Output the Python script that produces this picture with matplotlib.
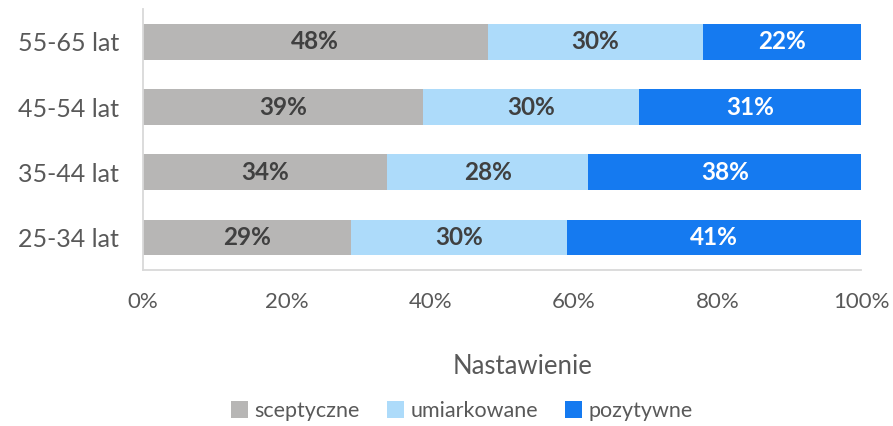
import matplotlib
matplotlib.use("Agg")
import matplotlib.pyplot as plt
import numpy as np

categories = ["25-34 lat", "35-44 lat", "45-54 lat", "55-65 lat"]
series_names = ["sceptyczne", "umiarkowane", "pozytywne"]
sceptyczne = [29, 34, 39, 48]
umiarkowane = [30, 28, 30, 30]
pozytywne = [41, 38, 31, 22]
xticks = [0, 20, 40, 60, 80, 100]
xlabel = "Nastawienie"

colors = ["#B7B6B5", "#ADDBFA", "#157AF0"]
label_colors = ["#404040", "#404040", "#FFFFFF"]

plt.rcParams['font.family'] = ['Lato', 'DejaVu Sans']

fig = plt.figure(figsize=(8.93, 4.26), dpi=100)
ax = fig.add_axes([0.1596, 0.3662, 0.9647 - 0.1596, 0.978 - 0.3662])

y = np.arange(len(categories))
left = np.zeros(len(categories))
for name, vals, c, lc in zip(series_names, [sceptyczne, umiarkowane, pozytywne], colors, label_colors):
    vals = np.array(vals, dtype=float)
    ax.barh(y, vals, left=left, height=0.55, color=c, label=name)
    for yi, l, v in zip(y, left, vals):
        ax.text(l + v / 2, yi, f"{int(v)}%", ha="center", va="center",
                fontsize=17.5, fontweight="bold", color=lc)
    left += vals

ax.set_xlim(0, 100)
ax.set_ylim(-0.5, len(categories) - 0.5)
ax.set_yticks(y)
ax.set_yticklabels(categories, fontsize=18, color="#595959")
ax.set_xticks(xticks)
ax.set_xticklabels([f"{t}%" for t in xticks], fontsize=16, color="#595959")
ax.tick_params(axis="both", length=0)
ax.tick_params(axis="y", pad=17)
ax.tick_params(axis="x", pad=16)
for s in ["top", "right"]:
    ax.spines[s].set_visible(False)
for s in ["left", "bottom"]:
    ax.spines[s].set_color("#D9D9D9")
    ax.spines[s].set_linewidth(1.3)

fig.text(523 / 893, 1 - 367 / 426, xlabel, ha="center", va="center",
         fontsize=18.5, color="#595959")

leg = fig.legend(loc="center", bbox_to_anchor=(462 / 893, 1 - 411 / 426), ncol=3,
                 frameon=False, fontsize=15.5, handlelength=0.8, handleheight=0.8,
                 handletextpad=0.3, columnspacing=1.25, labelcolor="#595959")

fig.savefig("out.png", dpi=100)
